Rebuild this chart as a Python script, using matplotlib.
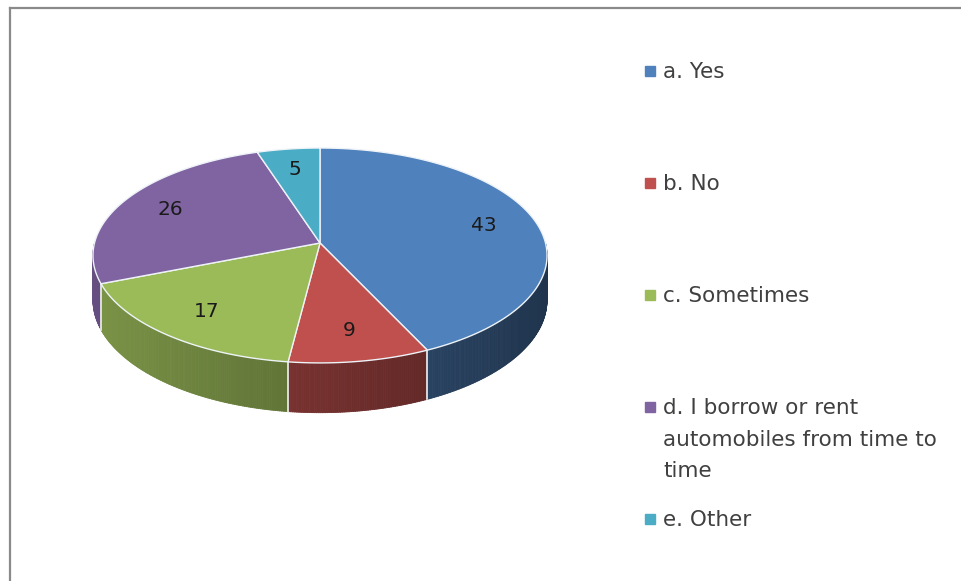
import numpy as np
import matplotlib.pyplot as plt
from matplotlib.collections import PolyCollection
from matplotlib.lines import Line2D
from matplotlib.colors import to_rgb

# dados do gráfico
categorias = ['a. Yes', 'b. No', 'c. Sometimes',
              'd. I borrow or rent\nautomobiles from time to\ntime', 'e. Other']
valores = np.array([43, 9, 17, 26, 5])
cores = ['#4f81bd', '#c0504d', '#9bbb59', '#8064a2', '#4bacc6']

W, H = 962, 581
fig = plt.figure(figsize=(W / 100, H / 100), dpi=100)
ax = fig.add_axes([0, 0, 1, 1])
ax.set_axis_off()

# geometria da pizza 3D (pixels)
cx, cy = 320, 243          # centro projetado (a partir do topo)
rx, ry = 225.5, 106        # escalas horizontal / vertical
k = 0.116                  # perspectiva
prof = 44 / ry             # espessura

ax.set_xlim(-cx / rx, (W - cx) / rx)
ax.set_ylim(-(H - cy) / ry, cy / ry)


def proj(t, r=1.0):
    X = r * np.cos(t)
    Y = r * np.sin(t)
    w = 1 + k * Y
    return X / w, Y / w, w


fracoes = valores / valores.sum()
bordas = np.pi / 2 - 2 * np.pi * np.concatenate([[0], np.cumsum(fracoes)])

# laterais (parte da frente)
polys, fcs = [], []
for i in range(len(valores)):
    hi, lo = bordas[i], bordas[i + 1]
    a, b = max(lo, -np.pi), min(hi, 0)
    if a >= b:
        continue
    ts = np.linspace(a, b, max(int((b - a) * 120), 2))
    base = np.array(to_rgb(cores[i]))
    for t1, t2 in zip(ts[:-1], ts[1:]):
        x1, y1, w1 = proj(t1)
        x2, y2, w2 = proj(t2)
        polys.append([(x1, y1), (x2, y2), (x2, y2 - prof / w2), (x1, y1 - prof / w1)])
        f = 0.6 - 0.2 * np.cos((t1 + t2) / 2)
        fcs.append(np.clip(base * f, 0, 1))
ax.add_collection(PolyCollection(polys, facecolors=fcs, edgecolors=fcs,
                                 linewidths=0.6, zorder=1))

for t in bordas:
    tt = (t + np.pi) % (2 * np.pi) - np.pi
    if -np.pi < tt < 0:
        x, y, w = proj(tt)
        ax.plot([x, x], [y, y - prof / w], color='#f2f2f2', lw=1.2, zorder=2)

# faces superiores
for i in range(len(valores)):
    ts = np.linspace(bordas[i], bordas[i + 1], 200)
    x, y, _ = proj(ts)
    ax.fill(np.r_[0, x], np.r_[0, y], facecolor=cores[i],
            edgecolor='#eef3f8', lw=1.0, zorder=3)

# rótulos
for i, v in enumerate(valores):
    tm = (bordas[i] + bordas[i + 1]) / 2
    x, y, _ = proj(tm, 0.76)
    ax.text(x, y, str(v), ha='center', va='center', fontsize=14.5,
            color='#1a1a1a', zorder=4)

# legenda
for i, (cat, cor) in enumerate(zip(categorias, cores)):
    yb = 78 + i * 112
    fig.patches.append(plt.Rectangle((645 / W, 1 - (yb - 2) / H), 10 / W, 10 / H,
                                     transform=fig.transFigure, color=cor))
    for j, linha in enumerate(cat.split('\n')):
        fig.text(663 / W, 1 - (yb + j * 31.5) / H, linha, fontsize=15.5,
                 color='#404040', va='baseline', ha='left')

# moldura
fig.add_artist(Line2D([9.5 / W, 1], [1 - 7.5 / H] * 2, transform=fig.transFigure,
                      color='#8a8a8a', lw=1.6))
fig.add_artist(Line2D([9.5 / W] * 2, [0, 1 - 7.5 / H], transform=fig.transFigure,
                      color='#8a8a8a', lw=1.6))

fig.savefig('out.png', dpi=100, facecolor='white')
